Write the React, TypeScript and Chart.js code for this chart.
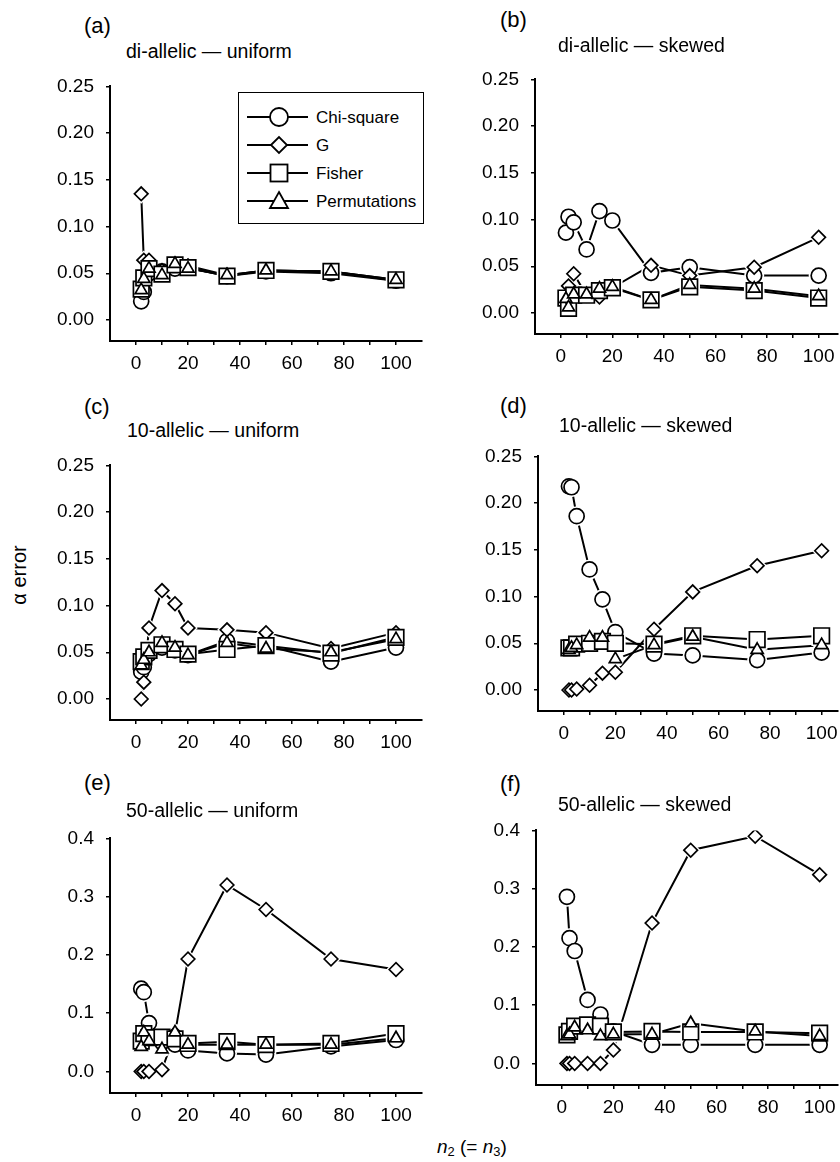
import React, { useEffect, useRef } from "react";
import { Chart, registerables } from "chart.js";

Chart.register(...registerables);

const FONT = "'Liberation Sans', Arial, Helvetica, sans-serif";

// ---------------- data ----------------
const sampleSizes = [2, 3, 5, 10, 15, 20, 35, 50, 75, 100];
const seriesNames = ["Chi-square", "G", "Fisher", "Permutations"];

// (a) di-allelic — uniform
const aChiSquare = [0.020, 0.030, 0.050, 0.052, 0.055, 0.056, 0.047, 0.052, 0.050, 0.042];
const aG = [0.135, 0.064, 0.064, 0.053, 0.060, 0.058, 0.048, 0.053, 0.052, 0.042];
const aFisher = [0.033, 0.045, 0.055, 0.049, 0.059, 0.056, 0.047, 0.053, 0.052, 0.043];
const aPermutations = [0.032, 0.044, 0.055, 0.048, 0.060, 0.055, 0.048, 0.053, 0.052, 0.043];

// (b) di-allelic — skewed
const bChiSquare = [0.086, 0.103, 0.097, 0.068, 0.109, 0.099, 0.043, 0.049, 0.040, 0.040];
const bG = [0.016, 0.029, 0.042, 0.019, 0.017, 0.027, 0.051, 0.040, 0.049, 0.081];
const bFisher = [0.016, 0.005, 0.019, 0.019, 0.024, 0.027, 0.014, 0.028, 0.024, 0.016];
const bPermutations = [0.015, 0.006, 0.020, 0.020, 0.026, 0.028, 0.014, 0.030, 0.026, 0.018];

// (c) 10-allelic — uniform
const cChiSquare = [0.029, 0.034, 0.048, 0.055, 0.052, 0.047, 0.062, 0.057, 0.040, 0.055];
const cG = [0.000, 0.018, 0.076, 0.116, 0.102, 0.076, 0.074, 0.071, 0.054, 0.071];
const cFisher = [0.040, 0.045, 0.052, 0.058, 0.053, 0.048, 0.053, 0.057, 0.049, 0.066];
const cPermutations = [0.036, 0.042, 0.050, 0.060, 0.055, 0.047, 0.060, 0.054, 0.050, 0.064];

// (d) 10-allelic — skewed
const dChiSquare = [0.218, 0.217, 0.186, 0.129, 0.097, 0.062, 0.039, 0.037, 0.032, 0.040];
const dG = [0.000, 0.000, 0.001, 0.005, 0.018, 0.019, 0.065, 0.105, 0.133, 0.149];
const dFisher = [0.045, 0.045, 0.049, 0.050, 0.052, 0.050, 0.049, 0.058, 0.054, 0.058];
const dPermutations = [0.043, 0.045, 0.048, 0.056, 0.056, 0.033, 0.048, 0.057, 0.043, 0.048];

// (e) 50-allelic — uniform
const eChiSquare = [0.142, 0.136, 0.083, 0.050, 0.046, 0.036, 0.031, 0.029, 0.043, 0.054];
const eG = [0.000, 0.000, 0.000, 0.003, 0.065, 0.193, 0.320, 0.278, 0.193, 0.175];
const eFisher = [0.052, 0.065, 0.058, 0.059, 0.056, 0.048, 0.051, 0.046, 0.048, 0.065];
const ePermutations = [0.042, 0.067, 0.052, 0.038, 0.067, 0.046, 0.046, 0.046, 0.046, 0.057];

// (f) 50-allelic — skewed
const fChiSquare = [0.286, 0.215, 0.193, 0.109, 0.084, 0.055, 0.032, 0.032, 0.032, 0.032];
const fG = [0.000, 0.000, 0.000, 0.000, 0.000, 0.023, 0.241, 0.366, 0.390, 0.324];
const fFisher = [0.049, 0.055, 0.064, 0.066, 0.064, 0.054, 0.055, 0.054, 0.054, 0.052];
const fPermutations = [0.047, 0.050, 0.062, 0.057, 0.047, 0.050, 0.050, 0.069, 0.055, 0.047];

// tick labels
const smallYTicks = [0, 0.05, 0.1, 0.15, 0.2, 0.25];
const largeYTicks = [0, 0.1, 0.2, 0.3, 0.4];
const xTickValues = [0, 10, 20, 30, 40, 50, 60, 70, 80, 90, 100];
const xLabelValues = [0, 20, 40, 60, 80, 100];

const panelLetters = ["(a)", "(b)", "(c)", "(d)", "(e)", "(f)"];
const panelTitles = [
  "di-allelic — uniform",
  "di-allelic — skewed",
  "10-allelic — uniform",
  "10-allelic — skewed",
  "50-allelic — uniform",
  "50-allelic — skewed",
];
const yAxisTitle = "α error";

// ---------------- styles / layout ----------------
type MarkerStyle = { style: any; radius: number; haloStyle: any; haloRadius: number };
const markerStyles: MarkerStyle[] = [
  { style: "circle", radius: 7.5, haloStyle: "circle", haloRadius: 10 },
  { style: "rectRot", radius: 6.8, haloStyle: "rectRot", haloRadius: 9.8 },
  { style: "rect", radius: 11, haloStyle: "rect", haloRadius: 14.5 },
  { style: "triangle", radius: 7, haloStyle: "circle", haloRadius: 8.5 },
];

const YW = 70; // y-axis box width
const XH = 40; // x-axis box height
const PT = 14; // top padding
const PLOT_H = 264;
const X_SCALE = 2.6; // px per unit

type PanelLayout = { L: number; R: number; T: number; letterX: number; letterY: number; titleX: number; titleY: number };
const layouts: PanelLayout[] = [
  { L: 110, R: 422, T: 77, letterX: 84, letterY: 26, titleX: 126, titleY: 52 },
  { L: 535, R: 840, T: 70, letterX: 500, letterY: 20, titleX: 558, titleY: 46 },
  { L: 110, R: 422, T: 456, letterX: 84, letterY: 407, titleX: 127, titleY: 431 },
  { L: 538, R: 840, T: 447, letterX: 500, letterY: 406, titleX: 559, titleY: 426 },
  { L: 110, R: 422, T: 829, letterX: 84, letterY: 783, titleX: 126, titleY: 811 },
  { L: 536, R: 840, T: 821, letterX: 500, letterY: 784, titleX: 558, titleY: 805 },
];

type PanelData = { series: number[][]; yTicks: number[]; yMax: number; yMin: number; decimals: number };
const panels: PanelData[] = [
  { series: [aChiSquare, aG, aFisher, aPermutations], yTicks: smallYTicks, yMax: 0.25, yMin: -0.0225, decimals: 2 },
  { series: [bChiSquare, bG, bFisher, bPermutations], yTicks: smallYTicks, yMax: 0.25, yMin: -0.0225, decimals: 2 },
  { series: [cChiSquare, cG, cFisher, cPermutations], yTicks: smallYTicks, yMax: 0.25, yMin: -0.0225, decimals: 2 },
  { series: [dChiSquare, dG, dFisher, dPermutations], yTicks: smallYTicks, yMax: 0.25, yMin: -0.0225, decimals: 2 },
  { series: [eChiSquare, eG, eFisher, ePermutations], yTicks: largeYTicks, yMax: 0.4, yMin: -0.037, decimals: 1 },
  { series: [fChiSquare, fG, fFisher, fPermutations], yTicks: largeYTicks, yMax: 0.4, yMin: -0.037, decimals: 1 },
];

function Panel({ data, layout }: { data: PanelData; layout: PanelLayout }) {
  const ref = useRef<HTMLCanvasElement | null>(null);
  const PR = layout.R >= 840 ? 12 : 20;
  const width = layout.R - layout.L + YW + PR;
  const height = PLOT_H + PT + XH;
  const xMax = -10 + (layout.R - layout.L) / X_SCALE;

  useEffect(() => {
    if (!ref.current) return;
    const pts = (vals: number[]) => sampleSizes.map((n, i) => ({ x: n, y: vals[i] }));
    const datasets: any[] = [];
    data.series.forEach((vals, i) => {
      datasets.push({
        label: seriesNames[i] + " line",
        data: pts(vals),
        showLine: true,
        borderColor: "#000",
        borderWidth: 2,
        pointRadius: 0,
        fill: false,
        order: 40 + i,
      });
    });
    data.series.forEach((vals, i) => {
      const m = markerStyles[i];
      datasets.push({
        label: seriesNames[i] + " halo",
        data: pts(vals),
        showLine: false,
        pointStyle: m.haloStyle,
        pointRadius: m.haloRadius,
        pointBackgroundColor: "#fff",
        pointBorderColor: "#fff",
        pointBorderWidth: 0,
        order: 30 + i,
      });
    });
    data.series.forEach((vals, i) => {
      const m = markerStyles[i];
      datasets.push({
        label: seriesNames[i],
        data: pts(vals),
        showLine: false,
        pointStyle: m.style,
        pointRadius: m.radius,
        pointBackgroundColor: "#fff",
        pointBorderColor: "#000",
        pointBorderWidth: 1.7,
        order: 10 - i,
      });
    });

    const tickFont = { family: FONT, size: 19 };
    const chart = new Chart(ref.current, {
      type: "scatter",
      data: { datasets },
      options: {
        animation: false,
        responsive: false,
        devicePixelRatio: 1,
        events: [],
        layout: { padding: { top: PT, right: PR, left: 0, bottom: 0 } },
        plugins: { legend: { display: false }, tooltip: { enabled: false } },
        scales: {
          x: {
            type: "linear",
            min: -10,
            max: xMax,
            afterBuildTicks: (s: any) => {
              s.ticks = xTickValues.map((v) => ({ value: v }));
            },
            afterFit: (s: any) => {
              s.height = XH;
            },
            ticks: {
              autoSkip: false,
              maxRotation: 0,
              padding: 7,
              color: "#000",
              font: tickFont,
              callback: (v: any) => (xLabelValues.includes(Number(v)) ? String(v) : ""),
            },
            grid: { display: true, drawOnChartArea: false, drawTicks: true, tickLength: 4, color: "#000", lineWidth: 1.5 },
            border: { display: true, color: "#000", width: 2 },
          },
          y: {
            type: "linear",
            min: data.yMin,
            max: data.yMax,
            afterBuildTicks: (s: any) => {
              s.ticks = data.yTicks.map((v) => ({ value: v }));
            },
            afterFit: (s: any) => {
              s.width = YW;
            },
            ticks: {
              padding: 12,
              color: "#000",
              font: tickFont,
              callback: (v: any) => Number(v).toFixed(data.decimals),
            },
            grid: { display: true, drawOnChartArea: false, drawTicks: true, tickLength: 4, color: "#000", lineWidth: 1.5 },
            border: { display: true, color: "#000", width: 2 },
          },
        },
      } as any,
    });
    return () => chart.destroy();
  }, []);

  return (
    <canvas
      ref={ref}
      width={width}
      height={height}
      style={{ position: "absolute", left: layout.L - YW, top: layout.T - PT, width, height }}
    />
  );
}

function Text({ x, y, size, children, style }: { x: number; y: number; size: number; children: any; style?: any }) {
  return (
    <div
      style={{
        position: "absolute",
        left: x,
        top: y,
        transform: "translateY(-50%)",
        fontFamily: FONT,
        fontSize: size,
        lineHeight: 1,
        whiteSpace: "nowrap",
        color: "#000",
        ...style,
      }}
    >
      {children}
    </div>
  );
}

function Legend() {
  const rows = [25, 53, 81, 109];
  const mx = 40;
  return (
    <div
      style={{
        position: "absolute",
        left: 238,
        top: 92,
        width: 186,
        height: 132,
        border: "1.5px solid #000",
        boxSizing: "border-box",
        background: "#fff",
      }}
    >
      <svg width={80} height={130} style={{ position: "absolute", left: 0, top: 0 }}>
        {rows.map((y, i) => (
          <line key={"l" + i} x1={8} x2={69} y1={y - 1} y2={y - 1} stroke="#000" strokeWidth={2} />
        ))}
        <circle cx={mx} cy={rows[0] - 1} r={9} fill="#fff" stroke="#000" strokeWidth={1.8} />
        <polygon
          points={`${mx - 8},${rows[1] - 1} ${mx},${rows[1] - 9} ${mx + 8},${rows[1] - 1} ${mx},${rows[1] + 7}`}
          fill="#fff"
          stroke="#000"
          strokeWidth={1.8}
        />
        <rect x={mx - 8.5} y={rows[2] - 9.5} width={17} height={17} fill="#fff" stroke="#000" strokeWidth={1.8} />
        <polygon
          points={`${mx},${rows[3] - 10} ${mx + 9},${rows[3] + 6} ${mx - 9},${rows[3] + 6}`}
          fill="#fff"
          stroke="#000"
          strokeWidth={1.8}
        />
      </svg>
      {seriesNames.map((name, i) => (
        <div
          key={name}
          style={{
            position: "absolute",
            left: 77,
            top: rows[i] - 1,
            transform: "translateY(-50%)",
            fontFamily: FONT,
            fontSize: 17,
            lineHeight: 1,
            whiteSpace: "nowrap",
          }}
        >
          {name}
        </div>
      ))}
    </div>
  );
}

export default function App() {
  return (
    <div
      style={{
        position: "absolute",
        left: 0,
        top: 0,
        width: 840,
        height: 1162,
        overflow: "hidden",
        background: "#fff",
      }}
    >
      {panels.map((p, i) => (
        <React.Fragment key={i}>
          <Panel data={p} layout={layouts[i]} />
          <Text x={layouts[i].letterX} y={layouts[i].letterY} size={22}>
            {panelLetters[i]}
          </Text>
          <Text x={layouts[i].titleX} y={layouts[i].titleY} size={19.5}>
            {panelTitles[i]}
          </Text>
        </React.Fragment>
      ))}
      <Legend />
      <div
        style={{
          position: "absolute",
          left: 19,
          top: 575,
          transform: "translate(-50%, -50%) rotate(-90deg)",
          fontFamily: FONT,
          fontSize: 20,
          lineHeight: 1,
          whiteSpace: "nowrap",
        }}
      >
        {yAxisTitle}
      </div>
      <Text x={437} y={1148} size={19}>
        <i>n</i>
        <sub style={{ fontSize: "0.68em", verticalAlign: "-0.3em" }}>2</sub> (= <i>n</i>
        <sub style={{ fontSize: "0.68em", verticalAlign: "-0.3em" }}>3</sub>)
      </Text>
    </div>
  );
}
